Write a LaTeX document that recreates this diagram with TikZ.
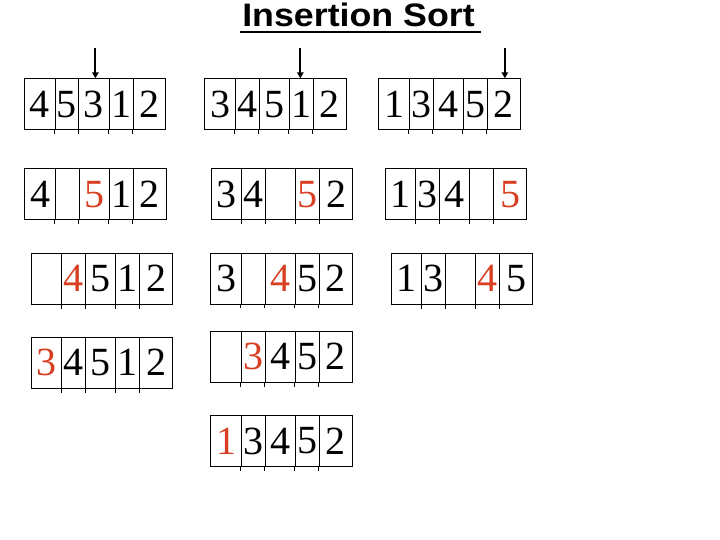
\documentclass[tikz,border=0pt]{standalone}
\usepackage{fontspec}
\setmainfont{Liberation Serif}
\newfontfamily\titlefont[FakeStretch=1.1]{Liberation Sans}
\usetikzlibrary{arrows.meta,calc}
\definecolor{hot}{RGB}{216,62,34}
\tikzset{
  cellbox/.style={draw,line width=0.9pt,inner sep=0pt,minimum height=51pt,anchor=north west,
    font=\fontsize{40}{40}\selectfont},
  tick/.style={line width=0.9pt},
  pointer/.style={line width=2pt,-{Triangle[length=6pt,width=6.5pt]}},
}
% \cellrow{name}{x}{y}{c1}{c2}{c3}{c4}{c5}
\newcommand\cellrow[8]{%
  \node[cellbox,minimum width=30.5pt] (#1-1) at (#2,-#3) {#4};
  \node[cellbox,minimum width=23.8pt] (#1-2) at ($(#2,-#3)+(30.5,0)$) {#5};
  \node[cellbox,minimum width=30.3pt] (#1-3) at ($(#2,-#3)+(54.3,0)$) {#6};
  \node[cellbox,minimum width=24pt]   (#1-4) at ($(#2,-#3)+(84.6,0)$) {#7};
  \node[cellbox,minimum width=32.6pt] (#1-5) at ($(#2,-#3)+(108.6,0)$) {#8};
  \foreach \k in {2,...,5}{\draw[tick] (#1-\k.south west) -- ++(0,-4);}
}
\newcommand\hr[1]{\textcolor{hot}{#1}}
\begin{document}
\begin{tikzpicture}[x=1pt,y=1pt]
\useasboundingbox (0,0) rectangle (720,-540);
% title
\node[anchor=base,inner sep=0pt,font=\titlefont\bfseries\fontsize{32.5}{33}\selectfont] (title) at (358.5,-26.7) {Insertion Sort};
\draw[line width=2.5pt] ($(title.base west)+(-2,-5.3)$) -- ($(title.base east)+(6,-5.3)$);
% row 1
\cellrow{a1}{24}{78.3}{4}{5}{3}{1}{2}
\cellrow{b1}{204.3}{78.3}{3}{4}{5}{1}{2}
\cellrow{c1}{378.3}{78.3}{1}{3}{4}{5}{2}
% row 2
\cellrow{a2}{24.3}{168.3}{4}{}{\hr{5}}{1}{2}
\cellrow{b2}{210.7}{168.3}{3}{4}{}{\hr{5}}{2}
\cellrow{c2}{384.7}{168.3}{1}{3}{4}{}{\hr{5}}
% row 3
\cellrow{a3}{30.7}{252.7}{}{\hr{4}}{5}{1}{2}
\cellrow{b3}{210.3}{252.5}{3}{}{\hr{4}}{5}{2}
\cellrow{c3}{390.7}{252.7}{1}{3}{}{\hr{4}}{5}
% row 4
\cellrow{a4}{30.7}{336.7}{\hr{3}}{4}{5}{1}{2}
\cellrow{b4}{210.3}{330.7}{}{\hr{3}}{4}{5}{2}
% row 5
\cellrow{b5}{210.3}{415}{\hr{1}}{3}{4}{5}{2}
% pointers
\coordinate (pa) at ($(a1-3.north)+(1.5,30)$);
\coordinate (pb) at ($(b1-4.north)+(-1,30)$);
\coordinate (pc) at ($(c1-5.north)+(1.2,30)$);
\draw[pointer] (pa) -- ([xshift=1.5pt]a1-3.north);
\draw[pointer] (pb) -- ([xshift=-1pt]b1-4.north);
\draw[pointer] (pc) -- ([xshift=1.2pt]c1-5.north);
\end{tikzpicture}
\end{document}
